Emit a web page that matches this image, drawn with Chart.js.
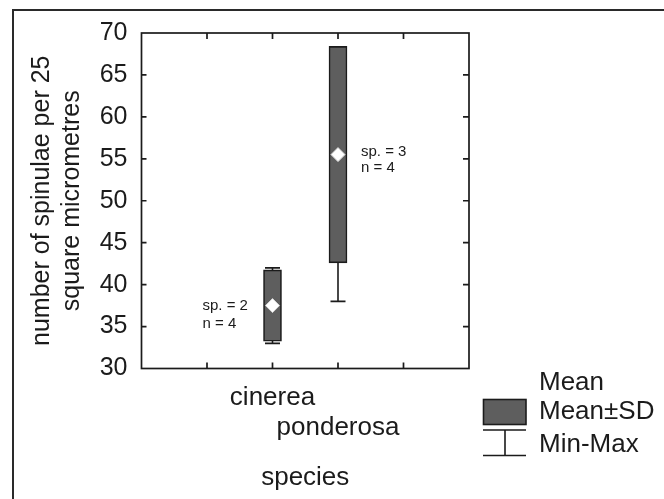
<!DOCTYPE html>
<html>
<head>
<meta charset="utf-8">
<script src="https://cdn.jsdelivr.net/npm/chart.js@4.4.1/dist/chart.umd.min.js"></script>
<style>
  html, body { margin: 0; padding: 0; background: #fff; }
  #wrap { width: 664px; height: 499px; }
</style>
</head>
<body>
<div id="wrap"><canvas id="c" width="664" height="499"></canvas></div>
<script>
// Spinulae density per species: mean, standard deviation and range
const species = ['cinerea', 'ponderosa'];
const speciesPos = [2, 3];
const means = [37.5, 55.5];
const sds = [4.25, 12.9];
const mins = [33, 38];
const maxs = [42, 68];
const specimenCounts = [2, 3];
const sampleCounts = [4, 4];
const yMin = 30, yMax = 70, yStep = 5;
const xTickValues = [1, 2, 3, 4];

const FONT = '"Liberation Sans", Arial, Helvetica, sans-serif';
const INK = '#1b1b1b';
const BOX_FILL = '#5e5e5e';

// Offsets of the "sp. / n" notes from each box centre and mean
const annot = [
  { dx: -70, dy: [0, 18] },
  { dx: 23, dy: [-3, 13] }
];

const background = {
  id: 'background',
  beforeDraw(chart) {
    const ctx = chart.ctx;
    ctx.save();
    ctx.fillStyle = '#fff';
    ctx.fillRect(0, 0, chart.width, chart.height);
    // page frame
    ctx.strokeStyle = '#2a2a2a';
    ctx.lineWidth = 2;
    ctx.beginPath();
    ctx.moveTo(13, chart.height);
    ctx.lineTo(13, 10);
    ctx.lineTo(chart.width, 10);
    ctx.stroke();
    ctx.restore();
  }
};

const whiskers = {
  id: 'whiskers',
  beforeDatasetsDraw(chart) {
    const { ctx, scales: { x, y } } = chart;
    ctx.save();
    ctx.strokeStyle = INK;
    ctx.lineWidth = 1.6;
    speciesPos.forEach((pos, i) => {
      const px = x.getPixelForValue(pos);
      const top = y.getPixelForValue(maxs[i]);
      const bot = y.getPixelForValue(mins[i]);
      ctx.beginPath();
      ctx.moveTo(px, top); ctx.lineTo(px, bot);
      ctx.moveTo(px - 7.5, top); ctx.lineTo(px + 7.5, top);
      ctx.moveTo(px - 7.5, bot); ctx.lineTo(px + 7.5, bot);
      ctx.stroke();
    });
    ctx.restore();
  }
};

const frame = {
  id: 'frame',
  afterDatasetsDraw(chart) {
    const { ctx, chartArea: a, scales: { x, y } } = chart;
    ctx.save();
    ctx.strokeStyle = INK;
    ctx.lineWidth = 1.7;
    ctx.strokeRect(a.left, a.top, a.right - a.left, a.bottom - a.top);
    ctx.beginPath();
    y.ticks.forEach(t => {
      if (t.value <= yMin || t.value >= yMax) return;
      const py = y.getPixelForValue(t.value);
      ctx.moveTo(a.left, py); ctx.lineTo(a.left + 5, py);
      ctx.moveTo(a.right, py); ctx.lineTo(a.right - 6, py);
    });
    xTickValues.forEach(v => {
      const px = x.getPixelForValue(v);
      ctx.moveTo(px, a.top); ctx.lineTo(px, a.top + 6);
      ctx.moveTo(px, a.bottom); ctx.lineTo(px, a.bottom - 6);
    });
    ctx.stroke();

    // sample notes beside each box
    ctx.fillStyle = INK;
    ctx.font = '15px ' + FONT;
    ctx.textAlign = 'left';
    ctx.textBaseline = 'middle';
    speciesPos.forEach((pos, i) => {
      const px = x.getPixelForValue(pos) + annot[i].dx;
      const py = y.getPixelForValue(means[i]);
      ctx.fillText('sp. = ' + specimenCounts[i], px, py + annot[i].dy[0]);
      ctx.fillText('n = ' + sampleCounts[i], px, py + annot[i].dy[1]);
    });
    ctx.restore();
  }
};

const keyBox = {
  id: 'keyBox',
  afterDraw(chart) {
    const ctx = chart.ctx;
    ctx.save();
    ctx.font = '26px ' + FONT;
    ctx.fillStyle = INK;
    ctx.textAlign = 'left';
    ctx.textBaseline = 'middle';
    ctx.fillText('Mean', 539, 383);
    ctx.fillText('Mean\u00B1SD', 539, 412);
    ctx.fillText('Min-Max', 539, 445);
    ctx.fillStyle = BOX_FILL;
    ctx.strokeStyle = INK;
    ctx.lineWidth = 1.6;
    ctx.fillRect(483.5, 399.5, 42.5, 25);
    ctx.strokeRect(483.5, 399.5, 42.5, 25);
    ctx.beginPath();
    ctx.moveTo(483, 430); ctx.lineTo(526, 430);
    ctx.moveTo(505, 430); ctx.lineTo(505, 455.5);
    ctx.moveTo(483, 455.5); ctx.lineTo(526, 455.5);
    ctx.stroke();
    ctx.restore();
  }
};

new Chart(document.getElementById('c'), {
  type: 'bar',
  data: {
    datasets: [
      {
        type: 'scatter',
        label: 'Mean',
        order: 1,
        data: speciesPos.map((p, i) => ({ x: p, y: means[i] })),
        pointStyle: 'rectRot',
        radius: 7,
        backgroundColor: '#ffffff',
        borderColor: '#d8d8d8',
        borderWidth: 1
      },
      {
        type: 'bar',
        label: 'Mean\u00B1SD',
        order: 2,
        data: speciesPos.map((p, i) => ({ x: p, y: [means[i] - sds[i], means[i] + sds[i]] })),
        backgroundColor: BOX_FILL,
        borderColor: INK,
        borderWidth: 1.6,
        borderSkipped: false,
        barThickness: 18
      }
    ]
  },
  options: {
    responsive: false,
    animation: false,
    events: [],
    layout: { padding: { left: 27, top: 33, right: 195, bottom: 6 } },
    plugins: { legend: { display: false }, tooltip: { enabled: false } },
    scales: {
      x: {
        type: 'linear',
        min: 0, max: 5,
        offset: false,
        grid: { display: false, drawTicks: false, offset: false },
        border: { display: false },
        afterBuildTicks(scale) {
          scale.ticks = speciesPos.map(v => ({ value: v }));
        },
        afterFit(scale) { scale.height = 124.5; },
        ticks: {
          autoSkip: false,
          maxRotation: 0,
          padding: 14.5,
          color: INK,
          font: { family: FONT, size: 26, lineHeight: '30px' },
          callback(value) {
            const i = speciesPos.indexOf(value);
            if (i < 0) return '';
            return i % 2 === 0 ? [species[i]] : ['', species[i]];
          }
        },
        title: {
          display: true,
          text: 'species',
          color: INK,
          padding: 0,
          font: { family: FONT, size: 26, lineHeight: '30px' }
        }
      },
      y: {
        min: yMin, max: yMax,
        grid: { display: false, drawTicks: false },
        border: { display: false },
        afterFit(scale) { scale.width = 114.5; },
        ticks: {
          stepSize: yStep,
          padding: 14,
          color: INK,
          font: { family: FONT, size: 25 }
        },
        title: {
          display: true,
          text: ['number of spinulae per 25', 'square micrometres'],
          color: INK,
          padding: 0,
          font: { family: FONT, size: 25, lineHeight: '30px' }
        }
      }
    }
  },
  plugins: [background, whiskers, frame, keyBox]
});
</script>
</body>
</html>
